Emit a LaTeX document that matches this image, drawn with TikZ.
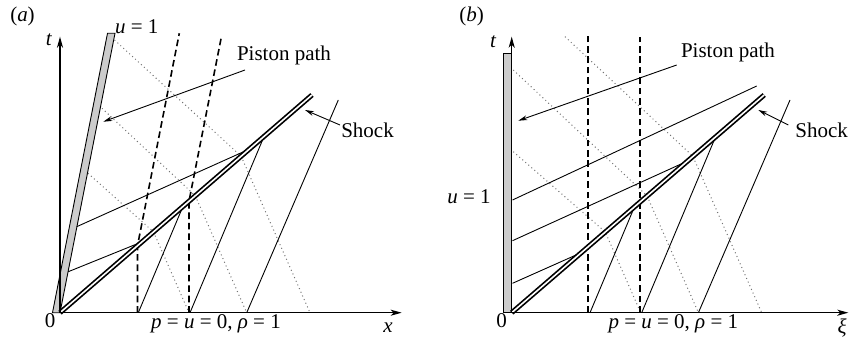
\documentclass[tikz,border=0pt]{standalone}
\usepackage{fontspec}
\setmainfont{Liberation Serif}
\usetikzlibrary{arrows.meta}
\newcommand{\mv}[1]{\textit{#1}}
\begin{document}
\begin{tikzpicture}[x=0.5pt,y=0.5pt,
  lbl/.style={font=\rmfamily\fontsize{10.5}{12}\selectfont, inner sep=0pt},
  axisl/.style={line width=0.7pt, -{Stealth[length=5.5pt,width=3pt,inset=1.5pt]}},
  thinl/.style={line width=0.45pt},
  dotl/.style={line width=0.5pt, black!55, dash pattern=on 0.5pt off 1.5pt},
  dashl/.style={line width=0.8pt, dash pattern=on 3.3pt off 1.9pt},
  shockl/.style={double, line width=0.85pt, double distance=0.8pt},
  ptr/.style={line width=0.45pt, -{Stealth[length=4.5pt,width=2.4pt]}},
  pist/.style={fill=black!20, draw=black, line width=0.45pt}]
\useasboundingbox (0,0) rectangle (849,342);

% ---------------- panel (a) ----------------
\begin{scope}[shift={(60,29.3)}]
  \coordinate (aO) at (0,0);
  \coordinate (aSe) at (252,217.7);
  \draw[pist] (-7.5,0) -- (0,0) -- (55,279.4) -- (47.5,279.4) -- cycle;
  \draw[dotl] (54.5,272.7) -- (181.1,156.5) -- (250,0);
  \draw[dotl] (42,204.4) -- (135.3,116.9) -- (186.7,0);
  \draw[dotl] (28,139.4) -- (93.5,80.8) -- (129,0);
  \draw[dashl] (77.5,0) -- (77.5,67) -- (119.3,279.4);
  \draw[dashl] (129,0) -- (129,111.5) -- (161.1,274.4);
  \draw[thinl] (78.3,0) -- (122.9,106.2);
  \draw[thinl] (130,0) -- (204.1,176.4);
  \draw[thinl] (186.7,0) -- (278.3,212.7);
  \draw[thinl] (16.7,86) -- (187,162.5);
  \draw[thinl] (8.3,41) -- (77.5,69);
  \draw[shockl] (aO) -- (aSe);
  \draw[axisl] (aO) -- (0,276);
  \draw[axisl] (aO) -- (341.7,0);
  \node[lbl] (aLab) at (-37.5,296.7) {(\mv{a})};
  \node[lbl] (aT) at (-11,272.7) {\mv{t}};
  \node[lbl] (aZero) at (-10,-8.3) {0};
  \node[lbl] (aX) at (328,-15.3) {\mv{x}};
  \node[lbl] (aInit) at (156,-10.6) {\mv{p} = \mv{u} = 0, \mv{ρ} = 1};
  \node[lbl] (aU) at (76.7,285.7) {\mv{u} = 1};
  \node[lbl] (aPP) at (224,257.7) {Piston path};
  \node[lbl] (aSh) at (307.5,182.7) {Shock};
  \coordinate (aPPs) at (185,242.7);
  \coordinate (aPPe) at (43.3,191);
  \coordinate (aShs) at (280,187.7);
  \coordinate (aShe) at (245,202.7);
  \draw[ptr] (aPPs) -- (aPPe);
  \draw[ptr] (aShs) -- (aShe);
\end{scope}

% ---------------- panel (b) ----------------
\begin{scope}[shift={(511.7,29.3)}]
  \coordinate (bO) at (0,0);
  \coordinate (bSe) at (252.5,217.7);
  \draw[pist] (-8.4,0) rectangle (0,259.4);
  \draw[dotl] (53.3,276) -- (181.1,156.5) -- (250,0);
  \draw[dotl] (1.6,242.7) -- (135.3,116.9) -- (186.7,0);
  \draw[dotl] (1.6,161) -- (93.5,80.8) -- (129,0);
  \draw[dashl] (76.5,0) -- (76.5,277.7);
  \draw[dashl] (128.5,0) -- (128.5,276);
  \draw[thinl] (78.3,0) -- (122.9,106.2);
  \draw[thinl] (130,0) -- (204.1,176.4);
  \draw[thinl] (186.7,0) -- (278.3,212.7);
  \draw[thinl] (0.8,112.7) -- (245,226.7);
  \draw[thinl] (0.8,72) -- (170,149);
  \draw[thinl] (0.8,29.4) -- (65,58);
  \draw[shockl] (bO) -- (bSe);
  \draw[axisl] (bO) -- (0,276);
  \draw[axisl] (bO) -- (336.6,0);
  \node[lbl] (bLab) at (-40,296.7) {(\mv{b})};
  \node[lbl] (bT) at (-18.4,270.7) {\mv{t}};
  \node[lbl] (bZero) at (-10,-8.3) {0};
  \node[lbl] (bXi) at (330.3,-15.3) {\mv{ξ}};
  \node[lbl] (bInit) at (161.6,-10.6) {\mv{p} = \mv{u} = 0, \mv{ρ} = 1};
  \node[lbl] (bU) at (-42.7,116) {\mv{u} = 1};
  \node[lbl] (bPP) at (216.3,260.7) {Piston path};
  \node[lbl] (bSh) at (310,182.7) {Shock};
  \coordinate (bPPs) at (165,247.7);
  \coordinate (bPPe) at (6.6,192);
  \coordinate (bShs) at (276.6,187.7);
  \coordinate (bShe) at (246.6,202.7);
  \draw[ptr] (bPPs) -- (bPPe);
  \draw[ptr] (bShs) -- (bShe);
\end{scope}
\end{tikzpicture}
\end{document}
